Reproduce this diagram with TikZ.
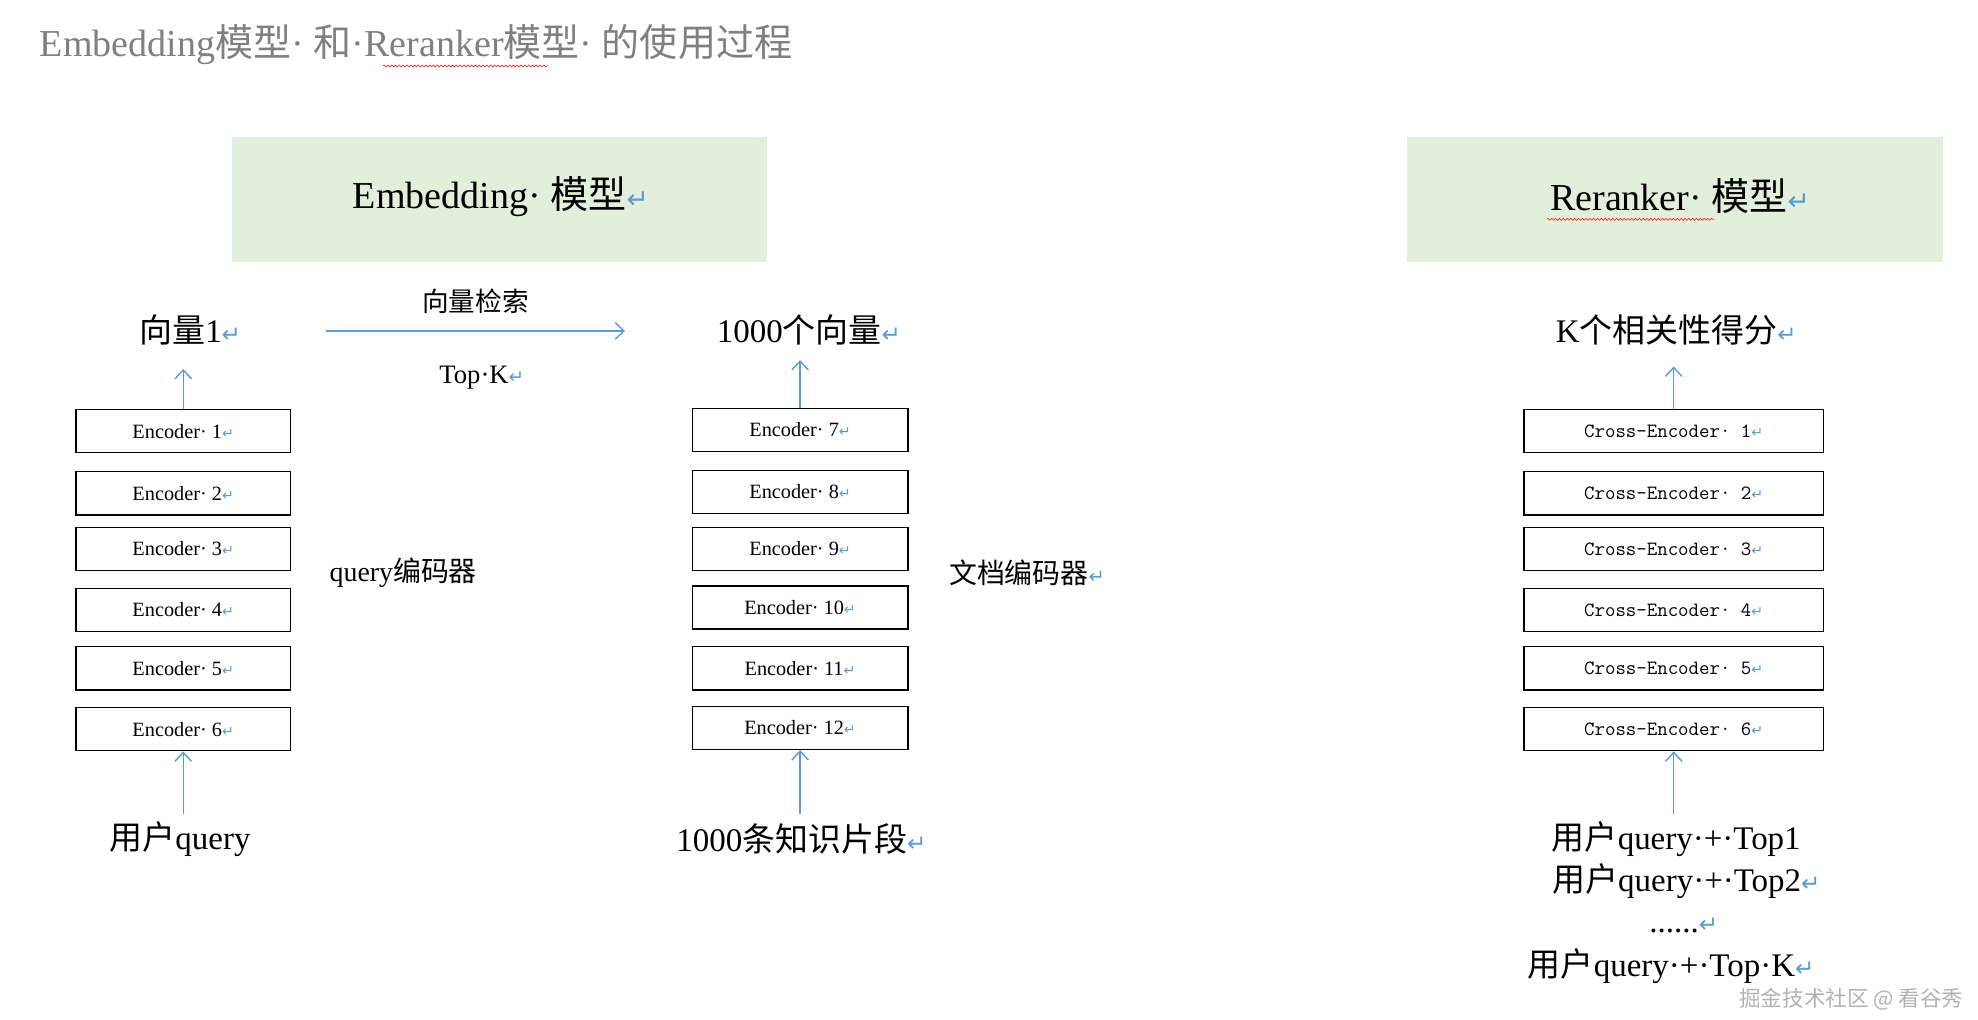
\documentclass[tikz,border=0pt]{standalone}
\usepackage{fontspec}
\setmainfont{Liberation Serif}
\newfontfamily\cjk{Noto Sans CJK SC}
\newfontfamily\djv{DejaVu Sans}
\usetikzlibrary{decorations.pathmorphing,arrows.meta}
\definecolor{retblue}{HTML}{5B9BD5}
\definecolor{greenbox}{HTML}{E2EFDA}
\newcommand{\rt}{{\djv\color{retblue}\fontsize{0.7em}{1em}\selectfont↵}}
\begin{document}
\begin{tikzpicture}[x=1pt,y=-1pt,
  enc/.style={draw,line width=1.2pt,minimum height=34pt,font=\fontsize{16}{16}\selectfont,inner sep=0pt},
  lab/.style={font=\fontsize{26}{28}\selectfont},
  arr/.style={-{Straight Barb[length=7pt,width=13pt]},draw=retblue,line width=1.1pt},
  wavy/.style={red,decorate,decoration={snake,amplitude=0.8pt,segment length=3pt}}]
\useasboundingbox (0,0) rectangle (1560,804);
\node[anchor=west,text=gray,font=\fontsize{30}{32}\selectfont] (title) at (28,35) {Embedding{\cjk 模型}· {\cjk 和}·Reranker{\cjk 模型}· {\cjk 的使用过程}};
\fill[greenbox] (183,108) rectangle (605,207);
\fill[greenbox] (1110,108) rectangle (1532,207);
\node[font=\fontsize{30}{32}\selectfont] (h1) at (395,155) {Embedding· {\cjk 模型}\rt};
\node[font=\fontsize{30}{32}\selectfont] (h2) at (1325,155) {Reranker· {\cjk 模型}\rt};
\draw[wavy] (1220,173) -- (1352,173);
\draw[wavy] (302,52) -- (432,52);
\node[lab] (v1) at (150,260) {{\cjk 向量}1\rt};
\node[lab] (v1000) at (638,260) {1000{\cjk 个向量}\rt};
\node[lab] (k) at (1322,260) {K{\cjk 个相关性得分}\rt};
\node[font=\fontsize{21}{22}\selectfont] (vs) at (375,238) {\cjk 向量检索};
\node[font=\fontsize{21}{22}\selectfont] (topk) at (380,298) {Top·K\rt};
\coordinate (a1) at (257,261); \coordinate (a2) at (493,261);
\draw[arr] (a1) -- (a2);
\node[font=\fontsize{22}{22}\selectfont] (qe) at (318,452) {query{\cjk 编码器}};
\node[font=\fontsize{22}{22}\selectfont] (de) at (810,452) {{\cjk 文档编码器}\rt};
\foreach \i/\y in {1/340,2/389,3/433,4/481,5/527,6/575}{
  \node[enc,minimum width=169pt] (L\i) at (144.5,\y) {Encoder· \i\rt};
  \node[enc,minimum width=236pt,font=\ttfamily\fontsize{16}{16}\selectfont] (R\i) at (1320,\y) {Cross-Encoder· \i\rt};
}
\foreach \i/\y/\n in {1/339/7,2/388/8,3/433/9,4/479/10,5/527/11,6/574/12}{
  \node[enc,minimum width=170pt] (M\i) at (631,\y) {Encoder· \n\rt};
}
\node[lab] (u1) at (142,662) {{\cjk 用户}query};
\node[lab] (u2) at (632,662) {1000{\cjk 条知识片段}\rt};
\node[lab] (r1) at (1322,662) {{\cjk 用户}query·+·Top1};
\node[lab] (r2) at (1330,695) {{\cjk 用户}query·+·Top2\rt};
\node[lab] (r3) at (1328,730) {......\rt};
\node[lab] (r4) at (1318,762) {{\cjk 用户}query·+·Top·K\rt};
\draw[arr] (L1.north) -- (L1.north |- 0,291);
\draw[arr] (L6.south |- 0,642) -- (L6.south);
\draw[arr] (M1.north) -- (M1.north |- 0,284);
\draw[arr] (M6.south |- 0,642) -- (M6.south);
\draw[arr] (R1.north) -- (R1.north |- 0,289);
\draw[arr] (R6.south |- 0,642) -- (R6.south);
\node[text=gray!60,font=\cjk\fontsize{17}{18}\selectfont,anchor=south east] (wm) at (1552,800) {掘金技术社区 @ 看谷秀};
\end{tikzpicture}
\end{document}
